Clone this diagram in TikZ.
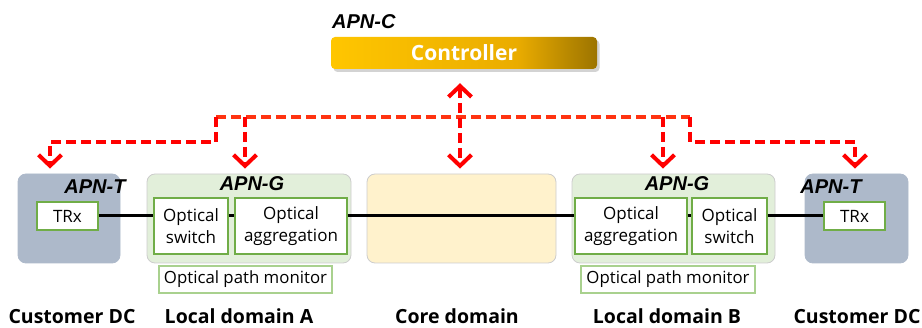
\documentclass[tikz,border=0pt]{standalone}
\usepackage{fontspec}
\setmainfont{Open Sans}
\newfontfamily\apnfont{Liberation Sans}
\usetikzlibrary{arrows.meta,shadows,calc}

\definecolor{termfill}{HTML}{ADB9CA}
\definecolor{gwfill}{HTML}{E2EFDA}
\definecolor{corefill}{HTML}{FFF2CC}
\definecolor{boxgreen}{HTML}{70AD47}
\definecolor{lightgreen}{HTML}{A9D18E}
\definecolor{ctlred}{HTML}{FF0000}
\definecolor{busred}{HTML}{FF3311}
\definecolor{goldA}{RGB}{255,198,0}
\definecolor{goldB}{RGB}{234,172,0}
\definecolor{goldC}{RGB}{156,116,0}

% gold bar: bright over most of its length, darkening towards the right end
\pgfdeclarehorizontalshading{goldbar}{100bp}{
  color(0bp)=(goldA); color(25bp)=(goldA); color(60bp)=(goldB);
  color(75bp)=(goldC); color(100bp)=(goldC)}

\tikzset{
  domainbox/.style={rounded corners=8pt, draw=black!20, line width=0.8pt, inner sep=0pt},
  termbox/.style={domainbox, fill=termfill, draw=termfill},
  gwbox/.style={domainbox, fill=gwfill},
  corebox/.style={domainbox, fill=corefill},
  unitbox/.style={draw=boxgreen, line width=1.4pt, fill=white, inner sep=0pt,
    align=center, font=\fontsize{17}{21.5}\selectfont},
  monitorbox/.style={draw=lightgreen, line width=1.4pt, fill=white, inner sep=0pt,
    font=\fontsize{16.8}{20}\selectfont},
  apnlabel/.style={font=\apnfont\fontsize{20}{22}\selectfont\bfseries\itshape, inner sep=0pt},
  domainlabel/.style={font=\fontsize{19.5}{22}\selectfont\bfseries, inner sep=0pt, anchor=base},
  fibre/.style={line width=3pt, black},
  ctlline/.style={line width=3.8pt, dash pattern=on 10pt off 5pt},
  barb/.tip={Straight Barb[length=11pt,width=23pt,line width=4pt]},
  ctltip/.style={-barb},
}

\begin{document}
\begin{tikzpicture}[x=1pt,y=-1pt]
\useasboundingbox (0,0) rectangle (922,328);

% controller
\node[apnlabel, anchor=west] (apnc) at (332,22) {APN-C};
\node[rounded corners=4pt, minimum width=266pt, minimum height=32pt,
  shading=goldbar,
  drop shadow={shadow xshift=2.5pt, shadow yshift=-3pt, opacity=0.35},
  text=white, font=\fontsize{21}{24}\selectfont\bfseries] (ctrl) at (464,53) {Controller};

% domains
\node[termbox, minimum width=102pt, minimum height=89pt] (termL) at (69,218.5) {};
\node[gwbox, minimum width=204pt, minimum height=89pt] (gwL) at (249,218.5) {};
\node[corebox, minimum width=189pt, minimum height=89pt] (core) at (461.5,218.5) {};
\node[gwbox, minimum width=203pt, minimum height=89pt] (gwR) at (673.5,218.5) {};
\node[termbox, minimum width=103pt, minimum height=89pt] (termR) at (856.5,218.5) {};

% node labels
\node[apnlabel] (apntL) at (95,187) {APN-T};
\node[apnlabel] (apngL) at (252,184) {APN-G};
\node[apnlabel] (apngR) at (677,184) {APN-G};
\node[apnlabel] (apntR) at (831,187) {APN-T};

% functional units
\node[unitbox, minimum width=61pt, minimum height=28pt] (trxL) at (67.5,216) {TRx};
\node[unitbox, minimum width=74pt, minimum height=56pt] (swL) at (191,226) {Optical\\switch};
\node[unitbox, minimum width=112pt, minimum height=56pt] (aggL) at (291,226) {Optical\\aggregation};
\node[unitbox, minimum width=112pt, minimum height=56pt] (aggR) at (631,226) {Optical\\aggregation};
\node[unitbox, minimum width=75pt, minimum height=56pt] (swR) at (729.5,226) {Optical\\switch};
\node[unitbox, minimum width=61pt, minimum height=28pt] (trxR) at (854.5,216) {TRx};

\node[monitorbox, minimum width=173pt, minimum height=27pt] (opmL) at (245.5,279.5) {Optical path monitor};
\node[monitorbox, minimum width=174pt, minimum height=27pt] (opmR) at (668,279.5) {Optical path monitor};

% optical data path
\draw[fibre] (trxL.east) -- (trxL.east -| swL.west);
\draw[fibre] (trxL.east -| swL.east) -- (trxL.east -| aggL.west);
\draw[fibre] (trxL.east -| aggL.east) -- (trxL.east -| aggR.west);
\draw[fibre] (trxL.east -| aggR.east) -- (trxL.east -| swR.west);
\draw[fibre] (trxL.east -| swR.east) -- (trxR.west);

% control channels
\coordinate (busL) at (216,117);
\coordinate (busR) at (690,117);
\draw[ctlline, busred] (busL) -- (busR);
\draw[ctlline, ctlred, ctltip, shorten >=5pt]
  (busL) -- (216,142) -| ([xshift=-19pt]termL.north);
\draw[ctlline, ctlred, ctltip, shorten >=5pt]
  (busL -| 245,0) -- ([xshift=-4pt]gwL.north);
\draw[ctlline, ctlred, ctltip, shorten >=5pt]
  (busR -| 663,0) -- ([xshift=-10.5pt]gwR.north);
\draw[ctlline, ctlred, ctltip, shorten >=5pt]
  (busR) -- (690,142) -| ([xshift=-1.5pt]termR.north);
\draw[ctlline, ctlred, barb-barb, shorten <=14pt, shorten >=5pt]
  ([xshift=-4pt]ctrl.south) -- ([xshift=-1.5pt]core.north);

% domain names
\node[domainlabel] (dcL) at (72,324) {Customer DC};
\node[domainlabel] (domA) at (239,324) {Local domain A};
\node[domainlabel] (domC) at (457,324) {Core domain};
\node[domainlabel] (domB) at (667,324) {Local domain B};
\node[domainlabel] (dcR) at (857,324) {Customer DC};
\end{tikzpicture}
\end{document}
